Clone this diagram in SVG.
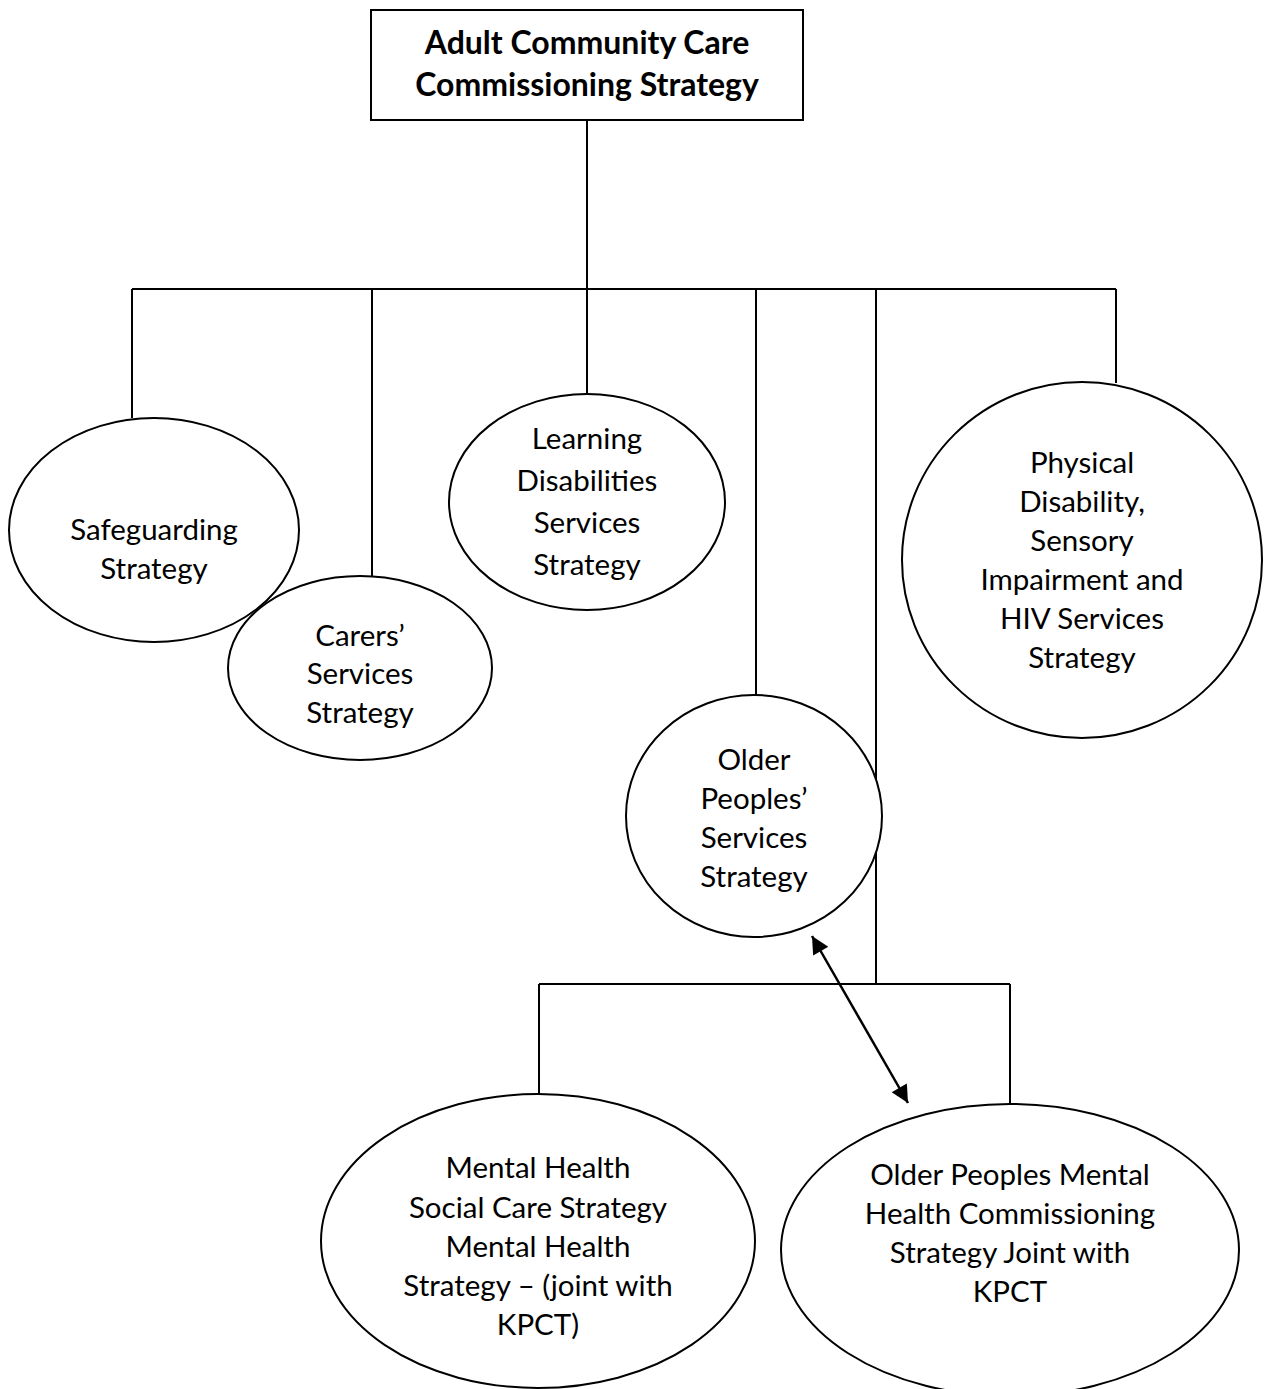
<svg xmlns="http://www.w3.org/2000/svg" width="1270" height="1389" viewBox="0 0 1270 1389">
<style>
.n{fill:#fff;stroke:#000;stroke-width:2}
.c{fill:none;stroke:#000;stroke-width:2}
.t{font-family:Lato,"Open Sans","Liberation Sans",sans-serif;font-size:29.5px;fill:#000;text-anchor:middle}
.b{font-weight:bold;font-size:32px}
</style>
<defs>
<marker id="ah" viewBox="0 0 10 10" refX="10" refY="5" markerWidth="9" markerHeight="7" markerUnits="strokeWidth" orient="auto-start-reverse"><path d="M0,0 L10,5 L0,10 z" fill="#000"/></marker>
</defs>
<g id="connectors">
<path class="c" d="M587,120 V289 M132,289 H1116 M132,289 V418 M372,289 V577 M587,289 V395 M756,289 V695 M876,289 V984 M1116,289 V383 M539,984 H1010 M539,984 V1095 M1010,984 V1105"/>
<line x1="812" y1="936" x2="908" y2="1103" stroke="#000" stroke-width="2.5" marker-start="url(#ah)" marker-end="url(#ah)"/>
</g>
<g id="root">
<rect class="n" x="371" y="10" width="432" height="110"/>
<text class="t b" x="587" y="54">Adult Community Care</text>
<text class="t b" x="587" y="96">Commissioning Strategy</text>
</g>
<g id="safeguarding">
<ellipse class="n" cx="154" cy="530" rx="145" ry="112"/>
<text class="t" x="154" y="540">Safeguarding</text>
<text class="t" x="154" y="579">Strategy</text>
</g>
<g id="carers">
<ellipse class="n" cx="360" cy="668" rx="132" ry="92"/>
<text class="t" x="360" y="646">Carers’</text>
<text class="t" x="360" y="684">Services</text>
<text class="t" x="360" y="723">Strategy</text>
</g>
<g id="learning">
<ellipse class="n" cx="587" cy="502" rx="138" ry="108"/>
<text class="t" x="587" y="449">Learning</text>
<text class="t" x="587" y="491">Disabilities</text>
<text class="t" x="587" y="533">Services</text>
<text class="t" x="587" y="575">Strategy</text>
</g>
<g id="physical">
<ellipse class="n" cx="1082" cy="560" rx="180" ry="178"/>
<text class="t" x="1082" y="473">Physical</text>
<text class="t" x="1082" y="512">Disability,</text>
<text class="t" x="1082" y="551">Sensory</text>
<text class="t" x="1082" y="590">Impairment and</text>
<text class="t" x="1082" y="629">HIV Services</text>
<text class="t" x="1082" y="668">Strategy</text>
</g>
<g id="older">
<ellipse class="n" cx="754" cy="816" rx="128" ry="121"/>
<text class="t" x="754" y="770">Older</text>
<text class="t" x="754" y="809">Peoples’</text>
<text class="t" x="754" y="848">Services</text>
<text class="t" x="754" y="887">Strategy</text>
</g>
<g id="mentalhealth">
<ellipse class="n" cx="538" cy="1241" rx="217" ry="147"/>
<text class="t" x="538" y="1178">Mental Health</text>
<text class="t" x="538" y="1218">Social Care Strategy</text>
<text class="t" x="538" y="1257">Mental Health</text>
<text class="t" x="538" y="1296">Strategy – (joint with</text>
<text class="t" x="538" y="1335">KPCT)</text>
</g>
<g id="opmh">
<ellipse class="n" cx="1010" cy="1250" rx="229" ry="146"/>
<text class="t" x="1010" y="1185">Older Peoples Mental</text>
<text class="t" x="1010" y="1224">Health Commissioning</text>
<text class="t" x="1010" y="1263">Strategy Joint with</text>
<text class="t" x="1010" y="1302">KPCT</text>
</g>
</svg>
